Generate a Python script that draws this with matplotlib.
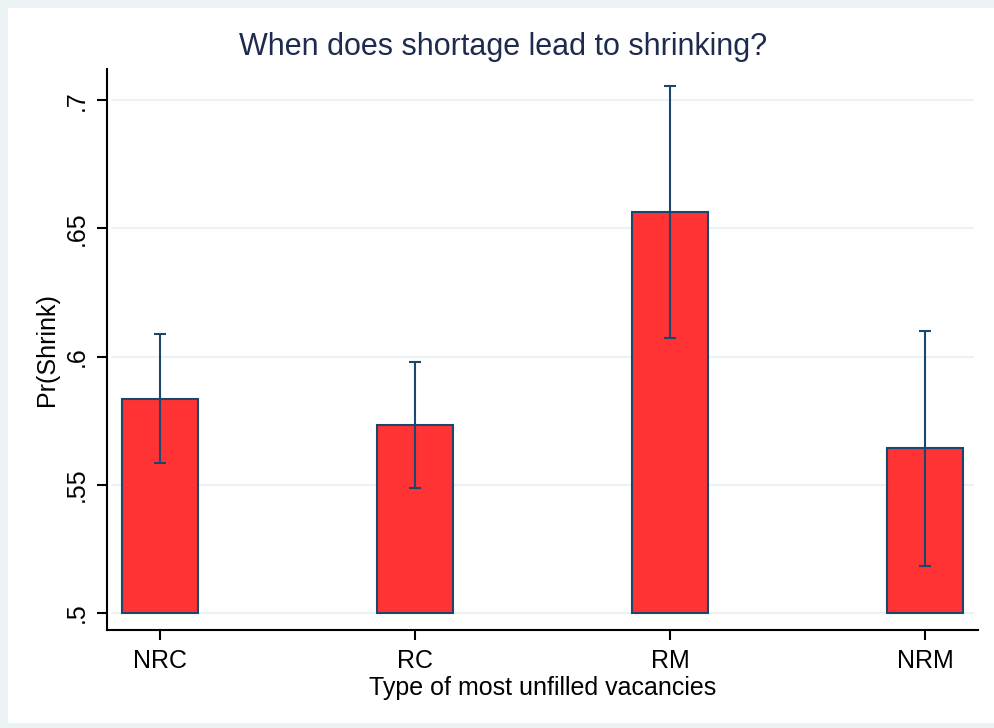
import matplotlib.pyplot as plt
from matplotlib.patches import Rectangle

categories = ["NRC", "RC", "RM", "NRM"]
pr_shrink = [0.5833, 0.5732, 0.6563, 0.5643]
ci_low = [0.5585, 0.5487, 0.6071, 0.5182]
ci_high = [0.6088, 0.5980, 0.7057, 0.6100]
yticks = [0.5, 0.55, 0.6, 0.65, 0.7]
ytick_labels = [".5", ".55", ".6", ".65", ".7"]

plt.rcParams['font.family'] = ['Liberation Sans', 'DejaVu Sans']

navy = '#1a476f'
frame = '#eaf2f3'

fig = plt.figure(figsize=(9.94, 7.28), dpi=100)
fig.patch.set_facecolor(frame)
# white panel inside the light border
fig.patches.append(Rectangle((8 / 994, 1 - 723 / 728), 1, 715 / 728,
                             transform=fig.transFigure, facecolor='white',
                             edgecolor='none', zorder=-5))

ax = fig.add_axes([107 / 994, 1 - 630 / 728, 871 / 994, 561 / 728])
ax.set_facecolor('white')

x = list(range(1, len(categories) + 1))
heights = [v - 0.5 for v in pr_shrink]
ax.bar(x, heights, bottom=0.5, width=0.3, color='#ff3333',
       edgecolor=navy, linewidth=1.5, zorder=2)

err_lo = [v - lo for v, lo in zip(pr_shrink, ci_low)]
err_hi = [hi - v for v, hi in zip(pr_shrink, ci_high)]
ax.errorbar(x, pr_shrink, yerr=[err_lo, err_hi], fmt='none', ecolor=navy,
            elinewidth=1.5, capsize=4, capthick=1.5, zorder=3)

ax.set_xlim(0.792, 4.208)
ax.set_ylim(0.4934, 0.7122)
ax.set_xticks(x)
ax.set_xticklabels(categories, fontsize=18)
ax.set_yticks(yticks)
ax.set_yticklabels(ytick_labels, fontsize=18, rotation=90, va='center')

for y in yticks:
    ax.plot([0.81, 4.19], [y, y], color=frame, linewidth=1.5, zorder=1)

for side in ['top', 'right']:
    ax.spines[side].set_visible(False)
for side in ['left', 'bottom']:
    ax.spines[side].set_linewidth(1.5)
    ax.spines[side].set_color('black')
ax.tick_params(axis='both', direction='out', length=7, width=1.5, colors='black')
ax.tick_params(axis='x', pad=7)
ax.tick_params(axis='y', pad=6)

ax.set_xlabel("Type of most unfilled vacancies", fontsize=18, labelpad=2)
ax.set_ylabel("Pr(Shrink)", fontsize=18, labelpad=4)

fig.text(503 / 994, 1 - 47 / 728, "When does shortage lead to shrinking?",
         ha='center', va='center', fontsize=22, color='#1e2b4e')

fig.savefig("out.png", dpi=100, facecolor=fig.get_facecolor())
